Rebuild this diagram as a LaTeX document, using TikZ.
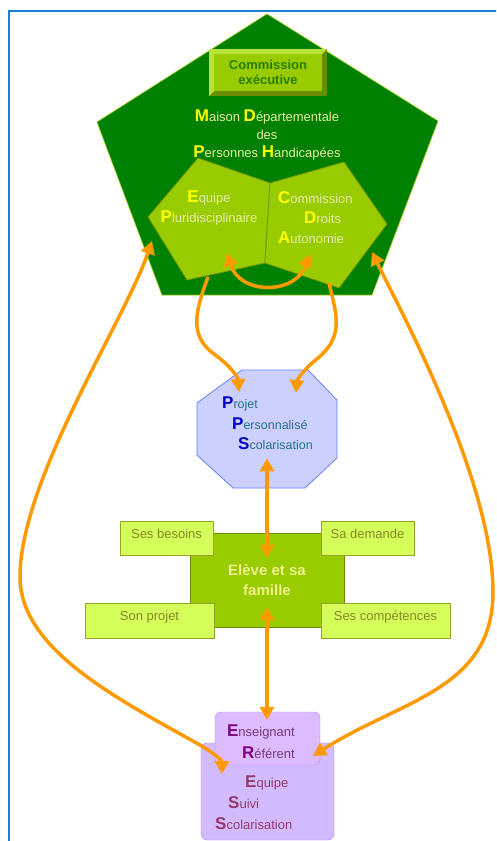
\documentclass[tikz,border=0pt]{standalone}
\usepackage{fontspec}
\setmainfont{Liberation Sans}
\usepackage{tikz}
\usetikzlibrary{positioning, arrows.meta, calc}

\definecolor{cadre}{RGB}{30,128,208}
\definecolor{vertfonce}{RGB}{0,128,0}
\definecolor{vertpomme}{RGB}{153,204,0}
\definecolor{bordpomme}{RGB}{115,150,0}
\definecolor{biseauclair}{RGB}{185,225,60}
\definecolor{biseaufonce}{RGB}{105,140,0}
\definecolor{vertce}{RGB}{40,125,0}
\definecolor{vertclair}{RGB}{212,255,90}
\definecolor{bordcase}{RGB}{150,165,40}
\definecolor{olivef}{RGB}{135,135,35}
\definecolor{orangef}{RGB}{255,153,0}
\definecolor{jaune}{RGB}{255,255,0}
\definecolor{pale}{RGB}{228,238,165}
\definecolor{paleeleve}{RGB}{240,240,140}
\definecolor{bleupps}{RGB}{204,208,255}
\definecolor{bordpps}{RGB}{102,128,255}
\definecolor{bleuini}{RGB}{0,0,204}
\definecolor{bleutxt}{RGB}{40,110,140}
\definecolor{mauve}{RGB}{221,187,255}
\definecolor{mauvefonce}{RGB}{210,188,255}
\definecolor{bordmauve}{RGB}{185,135,240}
\definecolor{violetini}{RGB}{128,0,128}
\definecolor{violettxt}{RGB}{120,55,125}
\definecolor{grenat}{RGB}{150,55,105}

\newcommand{\ini}[2]{\textcolor{#1}{\fontsize{17}{17}\selectfont\bfseries #2}}

\begin{document}
\begin{tikzpicture}[x=1pt, y=-1pt,
	texte/.style={inner sep=0pt, font=\fontsize{13}{20}\selectfont},
	fleche/.style={draw=orangef, line width=3.5pt, -{Triangle[length=13pt,width=14pt]}},
	fleches/.style={fleche, {Triangle[length=13pt,width=14pt]}-{Triangle[length=13pt,width=14pt]}},
	case/.style={draw=bordcase, fill=vertclair, text=olivef, font=\fontsize{13}{15}\selectfont,
		text height=9pt, text depth=9pt, inner sep=0pt}]
	\useasboundingbox (0,0) rectangle (496,841);
	\clip (0,0) rectangle (496,841);
	\draw[cadre, line width=2pt] (9,11) rectangle (530,880);

	% MDPH
	\filldraw[fill=vertfonce, draw=vertpomme, line width=0.6pt]
		(267,14) -- (438,121) -- (372,295) -- (162,295) -- (97,122) -- cycle;
	\fill[biseaufonce] (209,49) rectangle (327,96);
	\fill[biseauclair] (209,49) -- (327,49) -- (322,54) -- (214,54) -- (214,91) -- (209,96) -- cycle;
	\node[fill=vertpomme, minimum width=108pt, minimum height=37pt, inner sep=0pt, text=vertce,
		font=\bfseries\fontsize{13}{15}\selectfont, align=center] (ce) at (268,72.5) {Commission\\exécutive};
	\node[texte, text=pale, align=center, anchor=north, font=\fontsize{13}{18}\selectfont] (mdph) at (267,110)
		{\ini{jaune}{M}aison \ini{jaune}{D}épartementale\\des\\\ini{jaune}{P}ersonnes \ini{jaune}{H}andicapées};

	\filldraw[fill=vertpomme, draw=bordpomme, line width=0.8pt]
		(198,158) -- (270,183) -- (265,263) -- (187,280) -- (148,217) -- cycle;
	\filldraw[fill=vertpomme, draw=bordpomme, line width=0.8pt]
		(270,183) -- (344,162) -- (387,224) -- (339,288) -- (265,263) -- cycle;
	\node[texte, text=pale, align=center, anchor=north] (ep) at (209,191)
		{\ini{jaune}{E}quipe\\\ini{jaune}{P}luridisciplinaire};
	\node[texte, text=pale, align=left, anchor=north west] (cda) at (278,191)
		{\ini{jaune}{C}ommission\\\hspace*{26pt}\ini{jaune}{D}roits\\\ini{jaune}{A}utonomie};

	\coordinate (ep-arc) at (227,253);
	\coordinate (cda-arc) at (310,254);
	\coordinate (ep-bas) at (208,277);
	\coordinate (cda-bas) at (329,283);
	\coordinate (pent-g) at (152,241);
	\coordinate (pent-d) at (372,252);

	% PPS
	\filldraw[fill=bleupps, draw=bordpps, line width=0.8pt]
		(242,370) -- (308,370) -- (337,400) -- (337,458) -- (305,488) -- (233,488) -- (197,455) -- (197,403) -- cycle;
	\node[texte, text=bleutxt, align=left, anchor=north west, font=\fontsize{12.5}{20.5}\selectfont] (pps) at (222,397)
		{\ini{bleuini}{P}rojet\\\hspace*{10pt}\ini{bleuini}{P}ersonnalisé\\\hspace*{16pt}\ini{bleuini}{S}colarisation};
	\coordinate (pps-g) at (239,392);
	\coordinate (pps-d) at (296,393);

	% eleve
	\node[draw=biseaufonce, fill=vertpomme, minimum width=154pt, minimum height=94pt, text=paleeleve,
		font=\bfseries\fontsize{15}{20}\selectfont, align=center] (eleve) at (267,580) {Elève et sa\\famille};
	\node[case, minimum width=93pt, minimum height=34pt] (besoins) at (166.5,538) {Ses besoins};
	\node[case, minimum width=93pt, minimum height=34pt] (demande) at (367.5,538) {Sa demande};
	\node[case, minimum width=129pt, minimum height=35pt] (projet) at (149.5,620.5) {Son projet};
	\node[case, minimum width=129pt, minimum height=35pt] (competences) at (385.5,620.5) {Ses compétences};

	% ESS
	\node[draw=bordmauve, fill=mauvefonce, rounded corners=6pt, minimum width=133pt, minimum height=97pt] (ess) at (267.5,791.5) {};
	\node[draw=bordmauve, fill=mauve, rounded corners=6pt, minimum width=105pt, minimum height=53pt] (eref) at (267.5,738.5) {};
	\node[texte, text=violettxt, align=right, anchor=north east, font=\fontsize{13}{22}\selectfont] (ereftxt) at (295,725)
		{\ini{violetini}{E}nseignant\\\ini{violetini}{R}éférent};
	\node[texte, text=grenat, align=left, anchor=north west, font=\fontsize{13}{21}\selectfont] (esstxt) at (215,776)
		{\hspace*{30pt}\ini{grenat}{E}quipe\\\hspace*{13pt}\ini{grenat}{S}uivi\\\ini{grenat}{S}colarisation};
	\coordinate (ess-g) at (222,774);
	\coordinate (eref-d) at (313,756);

	% fleches
	\draw[fleches] (ep-arc) .. controls (240,295) and (295,295) .. (cda-arc);
	\draw[fleche] (ep-bas) .. controls (196,310) and (188,335) .. (214,354) .. controls (232,367) and (238,378) .. (pps-g);
	\draw[fleche] (cda-bas) .. controls (335,310) and (346,335) .. (318,358) .. controls (303,370) and (297,380) .. (pps-d);
	\draw[fleches] ($(eleve.north)+(0,25)$) -- ($(eleve.north |- pps.south)+(0,8)$);
	\draw[fleches] ($(eleve.south)+(0,-20)$) -- ($(eleve.south |- eref.north)+(0,8)$);
	\draw[fleches] (ess-g) .. controls (222,760) and (212,752) .. (200,745) .. controls (120,700) and (20,650) .. (20,577)
		.. controls (20,480) and (125,320) .. (pent-g);
	\draw[fleches] (eref-d) .. controls (400,700) and (493,690) .. (493,592) .. controls (493,480) and (400,310) .. (pent-d);
\end{tikzpicture}
\end{document}
